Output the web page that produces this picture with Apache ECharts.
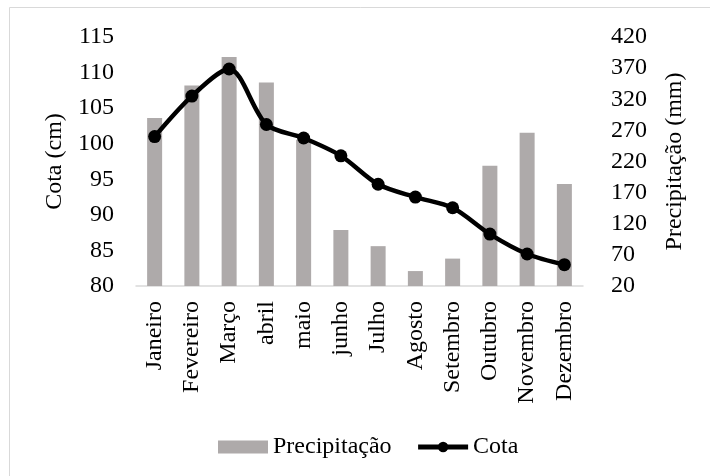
<!DOCTYPE html>
<html>
<head>
<meta charset="utf-8">
<script src="https://cdn.jsdelivr.net/npm/echarts@6/dist/echarts.min.js"></script>
<style>
html,body{margin:0;padding:0;background:#fff;}
#c{width:710px;height:476px;}
</style>
</head>
<body>
<div id="c"></div>
<script>
const months = ['Janeiro','Fevereiro','Março','abril','maio','junho','Julho','Agosto','Setembro','Outubro','Novembro','Dezembro'];
const precipitacao = [290, 342, 388, 347, 255, 110, 84, 44, 64, 213, 266, 184];
const cota = [101, 106.7, 110.5, 102.7, 100.8, 98.3, 94.3, 92.5, 91, 87.3, 84.5, 83];
const cotaTicks = [80, 85, 90, 95, 100, 105, 110, 115];
const precTicks = [20, 70, 120, 170, 220, 270, 320, 370, 420];

const FONT = "'Liberation Serif', 'Times New Roman', serif";
const FS = 24;
const chart = echarts.init(document.getElementById('c'));
const precStep = precTicks[1] - precTicks[0];
const precSpan = precTicks[precTicks.length - 1] - precTicks[0];

chart.setOption({
  animation: false,
  backgroundColor: '#fff',
  textStyle: { fontFamily: FONT, color: '#000' },
  graphic: [{
    type: 'rect',
    shape: { x: 9.5, y: 7.5, width: 720, height: 490 },
    style: { fill: 'none', stroke: '#d9d9d9', lineWidth: 1 },
    silent: true
  }],
  grid: { left: 136, right: 127, top: 37, bottom: 190, containLabel: false },
  legend: {
    left: 213, top: 430,
    itemWidth: 50, itemHeight: 13, itemGap: 24,
    textStyle: { fontFamily: FONT, fontSize: FS, color: '#000' },
    data: [
      { name: 'Precipitação', icon: 'rect' },
      { name: 'Cota', lineStyle: { width: 5, color: '#000' }, itemStyle: { color: '#000' } }
    ]
  },
  xAxis: {
    type: 'category',
    data: months,
    axisLine: { lineStyle: { color: '#d9d9d9', width: 1.5 } },
    axisTick: { show: false },
    axisLabel: { rotate: 90, fontFamily: FONT, fontSize: FS, color: '#000', margin: 15, interval: 0 }
  },
  yAxis: [
    {
      type: 'value', min: cotaTicks[0], max: cotaTicks[cotaTicks.length - 1], interval: cotaTicks[1] - cotaTicks[0],
      name: 'Cota (cm)', nameLocation: 'middle', nameGap: 66,
      nameTextStyle: { fontFamily: FONT, fontSize: FS, color: '#000' },
      axisLine: { show: false }, axisTick: { show: false }, splitLine: { show: false },
      axisLabel: { fontFamily: FONT, fontSize: FS, color: '#000', margin: 22 }
    },
    {
      type: 'value', position: 'right', min: 0, max: precSpan, interval: precStep,
      name: 'Precipitação (mm)', nameLocation: 'middle', nameGap: 80,
      nameTextStyle: { fontFamily: FONT, fontSize: FS, color: '#000' },
      axisLine: { show: false }, axisTick: { show: false }, splitLine: { show: false },
      axisLabel: {
        fontFamily: FONT, fontSize: FS, color: '#000', margin: 28,
        formatter: function (v) { return String(precTicks[Math.round(v / precStep)]); }
      }
    },
    {
      type: 'value', position: 'right', show: false,
      min: precTicks[0], max: precTicks[precTicks.length - 1],
      splitLine: { show: false }
    }
  ],
  series: [
    {
      name: 'Precipitação', type: 'bar', yAxisIndex: 2, data: precipitacao,
      barWidth: 15,
      itemStyle: { color: '#aeaaaa' }, z: 1
    },
    {
      name: 'Cota', type: 'line', yAxisIndex: 0, data: cota,
      smooth: 0.3,
      symbol: 'circle', symbolSize: 13,
      lineStyle: { color: '#000', width: 4.5 },
      itemStyle: { color: '#000' }, z: 3
    }
  ]
});
</script>
</body>
</html>
